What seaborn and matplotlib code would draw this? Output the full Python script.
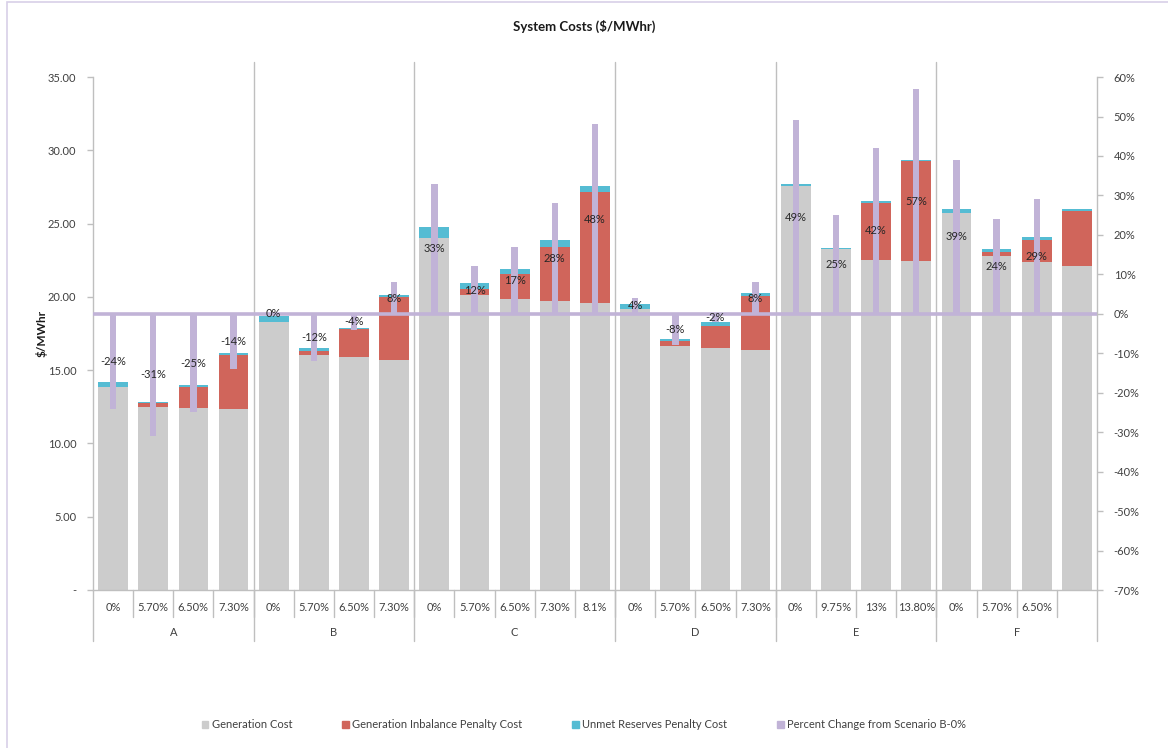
import seaborn as sns
import numpy as np
import pandas as pd
import matplotlib.pyplot as plt
from matplotlib.patches import Patch, Rectangle
from matplotlib.ticker import FuncFormatter

# scenario groups and the sub-scenarios inside each
groups = ['A', 'B', 'C', 'D', 'E', 'F']
group_sizes = [4, 4, 5, 4, 4, 4]
sub_labels = ['0%', '5.70%', '6.50%', '7.30%',
              '0%', '5.70%', '6.50%', '7.30%',
              '0%', '5.70%', '6.50%', '7.30%', '8.1%',
              '0%', '5.70%', '6.50%', '7.30%',
              '0%', '9.75%', '13%', '13.80%',
              '0%', '5.70%', '6.50%', '']

# $/MWhr components
gen_cost = [13.85, 12.50, 12.39, 12.32,
            18.30, 16.05, 15.87, 15.69,
            24.03, 20.10, 19.87, 19.69, 19.60,
            19.15, 16.64, 16.51, 16.35,
            27.56, 23.24, 22.49, 22.42,
            25.69, 22.78, 22.40, 22.12]
imbalance = [0.00, 0.23, 1.48, 3.73,
             0.00, 0.27, 1.91, 4.32,
             0.00, 0.42, 1.70, 3.73, 7.59,
             0.00, 0.37, 1.52, 3.73,
             0.00, 0.00, 3.91, 6.82,
             0.00, 0.25, 1.50, 3.73]
unmet = [0.35, 0.12, 0.09, 0.10,
         0.37, 0.16, 0.11, 0.13,
         0.75, 0.40, 0.35, 0.48, 0.37,
         0.36, 0.15, 0.25, 0.16,
         0.16, 0.09, 0.11, 0.09,
         0.34, 0.21, 0.18, 0.18]
pct_change = [-24, -31, -25, -14,
              0, -12, -4, 8,
              33, 12, 17, 28, 48,
              4, -8, -2, 8,
              49, 25, 42, 57,
              39, 24, 29, np.nan]

GRAY = '#cccccc'
RED = '#d0655b'
CYAN = '#55bcd3'
PURPLE = '#c1b3d7'
LINE = '#bfbfbf'
TXT = '#404040'

keys = [f'{g}|{i}' for g, n in zip(groups, group_sizes) for i in range(n)]
df = pd.DataFrame({'key': keys, 'gen': gen_cost, 'imb': imbalance,
                   'unmet': unmet, 'pct': pct_change})
df['gen_imb'] = df['gen'] + df['imb']
df['total'] = df['gen_imb'] + df['unmet']

sns.set_style('white')
plt.rcParams['font.family'] = ['Lato', 'DejaVu Sans']

fig = plt.figure(figsize=(11.68, 7.48), dpi=100)
ax = fig.add_axes([0.0796, 0.2112, 0.8596, 0.6858])

# stacked bars drawn as overlaid layers (total -> gen+imb -> gen)
for col, c in [('total', CYAN), ('gen_imb', RED), ('gen', GRAY)]:
    sns.barplot(data=df, x='key', y=col, order=keys, color=c, width=0.74,
                saturation=1, errorbar=None, linewidth=0, ax=ax)

ax2 = ax.twinx()
sns.barplot(data=df.dropna(subset=['pct']), x='key', y='pct', order=keys,
            color=PURPLE, width=0.16, saturation=1, errorbar=None,
            linewidth=0, ax=ax2)
ax2.axhline(0, color=PURPLE, lw=2.6, zorder=3)
for i, p in enumerate(pct_change):
    if not np.isnan(p):
        ax2.text(i, p / 2, f'{p:.0f}%', ha='center', va='center',
                 fontsize=8, color='#262626', zorder=5)

ax.set_ylim(0, 35)
ax2.set_ylim(-70, 60)
ax.set_xlim(-0.5, len(keys) - 0.5)
ax.set_xticks([])
ax.set_xlabel('')
ax2.set_xlabel('')
ax.set_ylabel('')
ax2.set_ylabel('')

ax.set_yticks(np.arange(0, 36, 5))
ax.yaxis.set_major_formatter(FuncFormatter(lambda v, _: '-' if v == 0 else f'{v:.2f}'))
ax2.set_yticks(np.arange(-70, 61, 10))
ax2.yaxis.set_major_formatter(FuncFormatter(lambda v, _: f'{v:.0f}%'))
ax.tick_params(axis='y', length=4, width=1, color=LINE, labelsize=8,
               labelcolor=TXT, pad=8, left=True)
ax2.tick_params(axis='y', length=4, width=1, color=LINE, labelsize=8,
                labelcolor=TXT, pad=8, right=True)

for a in (ax, ax2):
    for s in a.spines.values():
        s.set_visible(False)
ax.spines['left'].set_visible(True)
ax.spines['bottom'].set_visible(True)
ax2.spines['right'].set_visible(True)
for s in (ax.spines['left'], ax.spines['bottom'], ax2.spines['right']):
    s.set_color(LINE)
    s.set_linewidth(1)

# category axis: sub labels, group labels and divider lines
tr = ax.get_xaxis_transform()
starts = np.cumsum([0] + group_sizes)
for i, lab in enumerate(sub_labels):
    ax.text(i, -0.035, lab, transform=tr, ha='center', va='center',
            fontsize=8, color=TXT)
for k in range(1, len(keys)):
    ax.plot([k - 0.5, k - 0.5], [-0.0526, 0], transform=tr, color=LINE,
            lw=1, clip_on=False)
for g, s0, s1 in zip(groups, starts[:-1], starts[1:]):
    ax.text((s0 + s1 - 1) / 2, -0.082, g, transform=tr, ha='center',
            va='center', fontsize=8, color=TXT)
for b in starts:
    top = 1.029 if 0 < b < len(keys) else 0
    ax.plot([b - 0.5, b - 0.5], [-0.0994, top], transform=tr, color=LINE,
            lw=1, clip_on=False, zorder=0.5)

fig.text(0.5, 0.964, 'System Costs ($/MWhr)', ha='center', va='center',
         fontsize=9.5, fontweight='bold', color='#1a1a1a')
fig.text(0.036, 0.554, '$/MWhr', rotation=90, ha='center', va='center',
         fontsize=8.5, fontweight='bold', color='#1a1a1a')

handles = [Patch(color=GRAY), Patch(color=RED), Patch(color=CYAN), Patch(color=PURPLE)]
labels = ['Generation Cost', 'Generation Inbalance Penalty Cost',
          'Unmet Reserves Penalty Cost', 'Percent Change from Scenario B-0%']
fig.legend(handles, labels, loc='center', bbox_to_anchor=(0.5, 0.031), ncol=4,
           frameon=False, fontsize=8, handlelength=0.6, handleheight=0.6,
           handletextpad=0.3, columnspacing=4.5, labelcolor=TXT)

fig.patches.append(Rectangle((0.006, -0.01), 1.1, 1.007, transform=fig.transFigure,
                             fill=False, edgecolor='#d8cfe8', lw=1.2))

fig.savefig('out.png', dpi=100)
